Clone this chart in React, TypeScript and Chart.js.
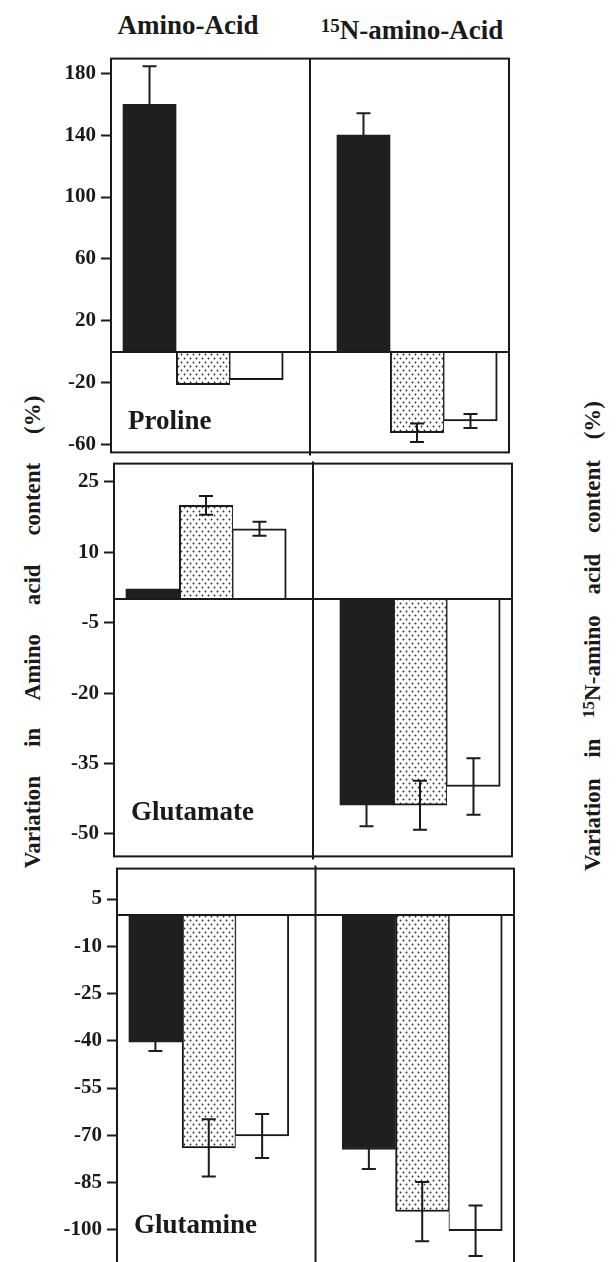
import React, { useEffect, useRef } from 'react';
import { Chart, registerables } from 'chart.js';

Chart.register(...registerables);

// ---- data ----
const COLUMNS = ['Amino-Acid', '15N-amino-Acid'];
const SERIES = ['Treatment A', 'Treatment B', 'Treatment C']; // black, dotted, white

const PROLINE_AA = [160, -21.3, -18.1];
const PROLINE_AA_ERR = [24.5, 0, 0];
const PROLINE_15N = [140.2, -52.4, -44.8];
const PROLINE_15N_ERR = [14, 6, 4.5];

const GLUTAMATE_AA = [2.2, 20.0, 15.0];
const GLUTAMATE_AA_ERR = [0, 2, 1.5];
const GLUTAMATE_15N = [-43.9, -43.9, -39.9];
const GLUTAMATE_15N_ERR = [4.5, 5.2, 6];

const GLUTAMINE_AA = [-40.4, -74.0, -70.2];
const GLUTAMINE_AA_ERR = [2.8, 9.1, 7];
const GLUTAMINE_15N = [-74.5, -94.2, -100.3];
const GLUTAMINE_15N_ERR = [6.2, 9.4, 8];

const PROLINE_TICKS = [180, 140, 100, 60, 20, -20, -60];
const GLUTAMATE_TICKS = [25, 10, -5, -20, -35, -50];
const GLUTAMINE_TICKS = [5, -10, -25, -40, -55, -70, -85, -100];

// ---- layout ----
const PAD = 14;
const HALF = 3.72;
const SERIF = '"Liberation Serif", "Times New Roman", serif';
const INK = '#1b1a19';

const PANELS = [
  {
    name: 'Proline', values: [PROLINE_AA, PROLINE_15N], errors: [PROLINE_AA_ERR, PROLINE_15N_ERR],
    ticks: PROLINE_TICKS, left: 111, right: 509, top: 55, bottom: 456, yMin: -65.1, yMax: 189.5, labelAt: -49.8,
    extTop: 0, extBottom: 3,
  },
  {
    name: 'Glutamate', values: [GLUTAMATE_AA, GLUTAMATE_15N], errors: [GLUTAMATE_AA_ERR, GLUTAMATE_15N_ERR],
    ticks: GLUTAMATE_TICKS, left: 114, right: 512, top: 460, bottom: 860, yMin: -54.8, yMax: 28.9, labelAt: -47,
    extTop: 2, extBottom: 3,
  },
  {
    name: 'Glutamine', values: [GLUTAMINE_AA, GLUTAMINE_15N], errors: [GLUTAMINE_AA_ERR, GLUTAMINE_15N_ERR],
    ticks: GLUTAMINE_TICKS, left: 117, right: 514, top: 865, bottom: 1275, yMin: -113.2, yMax: 14.66, labelAt: -101,
    extTop: 3, extBottom: 0,
  },
];

function makeDots(): CanvasPattern | string {
  const c = document.createElement('canvas');
  c.width = 6;
  c.height = 8;
  const g = c.getContext('2d');
  if (!g) return '#ddd';
  g.fillStyle = '#ffffff';
  g.fillRect(0, 0, 6, 8);
  g.fillStyle = '#2a2a2a';
  g.beginPath();
  g.arc(1.5, 1.5, 0.9, 0, Math.PI * 2);
  g.arc(4.5, 5.5, 0.9, 0, Math.PI * 2);
  g.fill();
  return g.createPattern(c, 'repeat') || '#ddd';
}

const decoPlugin = {
  id: 'panelDeco',
  afterDatasetsDraw(chart: any, _args: any, opts: any) {
    const { ctx, chartArea, scales } = chart;
    const { left, right, top, bottom } = chartArea;
    const ys = scales.y;
    const xs = scales.x;
    ctx.save();
    ctx.strokeStyle = INK;
    ctx.lineWidth = 2;
    // frame
    ctx.strokeRect(left, top, right - left, bottom - top);
    // zero line
    const y0 = Math.round(ys.getPixelForValue(0));
    ctx.beginPath();
    ctx.moveTo(left, y0);
    ctx.lineTo(right, y0);
    ctx.stroke();
    // column divider
    const xm = xs.getPixelForValue(SERIES.length);
    ctx.beginPath();
    ctx.moveTo(xm, top - opts.extTop);
    ctx.lineTo(xm, bottom + opts.extBottom);
    ctx.stroke();
    // error bars
    chart.data.datasets.forEach((ds: any, di: number) => {
      const meta = chart.getDatasetMeta(di);
      meta.data.forEach((bar: any, i: number) => {
        const err = ds.errors[i];
        if (!err) return;
        const v = ds.data[i].y;
        const yHi = ys.getPixelForValue(v + err);
        const yLo = ys.getPixelForValue(v - err);
        const x = bar.x;
        const cap = 7;
        ctx.strokeStyle = di === 0 ? '#201f1d' : INK;
        ctx.beginPath();
        ctx.moveTo(x, yHi);
        ctx.lineTo(x, yLo);
        ctx.moveTo(x - cap, yHi);
        ctx.lineTo(x + cap, yHi);
        ctx.moveTo(x - cap, yLo);
        ctx.lineTo(x + cap, yLo);
        ctx.stroke();
      });
    });
    // panel label
    ctx.fillStyle = INK;
    ctx.font = `bold 27px ${SERIF}`;
    ctx.textAlign = 'left';
    ctx.textBaseline = 'alphabetic';
    ctx.fillText(opts.label, left + 17, ys.getPixelForValue(opts.labelAt));
    ctx.restore();
  },
};

function Panel({ cfg }: { cfg: any }) {
  const ref = useRef<HTMLCanvasElement>(null);
  useEffect(() => {
    const canvas = ref.current;
    if (!canvas) return;
    const dots = makeDots();
    const fills = ['#201f1d', dots, '#ffffff'];
    const borders = [
      2,
      { left: 2, right: 1, top: 2, bottom: 2 },
      { left: 1, right: 2, top: 2, bottom: 2 },
    ];
    const xMin = SERIES.length - HALF;
    const xMax = SERIES.length + HALF;
    const chart = new Chart(canvas, {
      type: 'bar',
      data: {
        datasets: SERIES.map((s, ti) => ({
          label: s,
          data: COLUMNS.map((_c, ci) => ({ x: ci * (SERIES.length + 1) + ti, y: cfg.values[ci][ti] })),
          errors: COLUMNS.map((_c, ci) => cfg.errors[ci][ti]),
          backgroundColor: fills[ti],
          borderColor: ti === 0 ? '#201f1d' : INK,
          borderWidth: borders[ti],
          grouped: false,
          barPercentage: 1,
          categoryPercentage: 1,
        })) as any,
      },
      options: {
        responsive: false,
        animation: false,
        layout: { padding: { top: PAD, bottom: PAD, left: 0, right: PAD } },
        plugins: {
          legend: { display: false },
          tooltip: { enabled: false },
          panelDeco: { label: cfg.name, labelAt: cfg.labelAt, extTop: cfg.extTop, extBottom: cfg.extBottom },
        } as any,
        scales: {
          x: {
            type: 'linear',
            display: false,
            offset: false,
            bounds: 'data',
            grace: 0,
            min: xMin,
            max: xMax,
            grid: { offset: false },
            afterDataLimits: (s: any) => { s.min = xMin; s.max = xMax; },
            afterBuildTicks: (s: any) => { s.ticks = [{ value: SERIES.length }]; },
          },
          y: {
            type: 'linear',
            min: cfg.yMin,
            max: cfg.yMax,
            afterBuildTicks: (s: any) => { s.ticks = cfg.ticks.map((v: number) => ({ value: v })); },
            afterFit: (s: any) => { s.width = cfg.left; },
            ticks: {
              color: INK,
              padding: 5,
              font: { family: SERIF, size: 21, weight: 'bold' },
              callback: (v: any) => String(v),
            },
            grid: { drawOnChartArea: false, tickLength: 10, tickWidth: 2, tickColor: INK },
            border: { display: false },
          },
        } as any,
      },
      plugins: [decoPlugin],
    });
    return () => chart.destroy();
  }, [cfg]);
  return (
    <canvas
      ref={ref}
      width={cfg.right + PAD}
      height={cfg.bottom - cfg.top + 2 * PAD}
      style={{ position: 'absolute', left: 0, top: cfg.top - PAD }}
    />
  );
}

export default function App() {
  const head: React.CSSProperties = {
    position: 'absolute', top: 12, font: `bold 27px ${SERIF}`, lineHeight: '27px',
    color: INK, whiteSpace: 'nowrap', transform: 'translateX(-50%)',
  };
  const vtitle: React.CSSProperties = {
    position: 'absolute', font: `bold 23px ${SERIF}`, color: INK, whiteSpace: 'nowrap',
    transform: 'translate(-50%, -50%) rotate(-90deg)', wordSpacing: 23, lineHeight: '26px',
  };
  return (
    <div style={{ position: 'fixed', left: 0, top: 0, width: 616, height: 1262, overflow: 'hidden', background: '#fff' }}>
      <div style={{ ...head, left: 188 }}>{COLUMNS[0]}</div>
      <div style={{ ...head, left: 412 }}>
        <sup style={{ fontSize: 19, verticalAlign: 7 }}>15</sup>N-amino-Acid
      </div>
      <div style={{ ...vtitle, left: 33, top: 632 }}>Variation in Amino acid content (%)</div>
      <div style={{ ...vtitle, left: 591, top: 636, wordSpacing: 15 }}>
        Variation in <sup style={{ fontSize: 17, verticalAlign: 6 }}>15</sup>N-amino acid content (%)
      </div>
      {PANELS.map((p) => (
        <Panel key={p.name} cfg={p} />
      ))}
    </div>
  );
}
